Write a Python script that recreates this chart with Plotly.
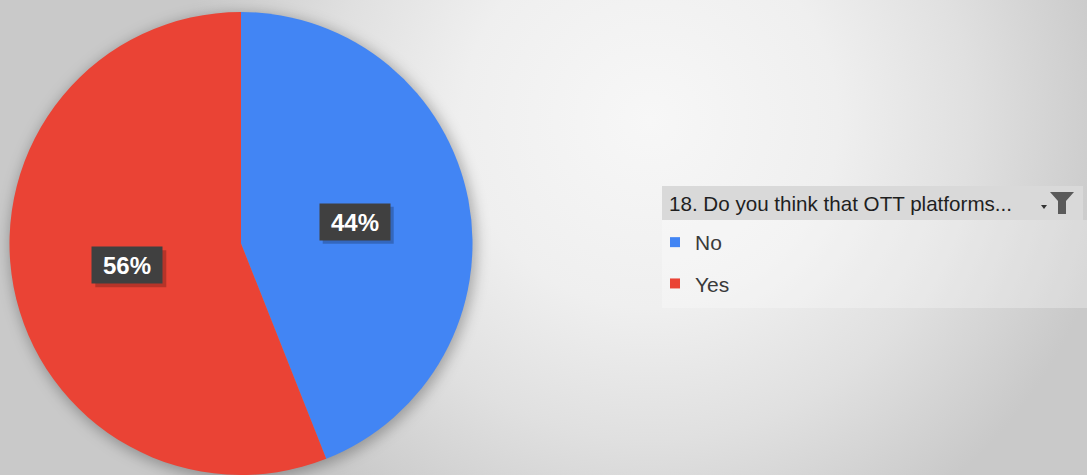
import math
import base64
import plotly.graph_objects as go

# ---------------- data ----------------
labels = ["No", "Yes"]
values = [44, 56]
colors = ["#4285F4", "#EA4335"]
legend_title = "18. Do you think that OTT platforms..."

# ---------------- geometry / style ----------------
W, H = 1087, 475
TOP = 12
R = (H - TOP) / 2.0
CX = 241.0
CY = TOP + R
BOX_W, BOX_H = 70, 36


def px(x):
    return x / W


def py(y):
    return 1 - y / H


# background: radial gradient + soft pie shadow
svg = f'''<svg xmlns="http://www.w3.org/2000/svg" width="{W}" height="{H}" viewBox="0 0 {W} {H}" preserveAspectRatio="none">
<defs>
<radialGradient id="g" gradientUnits="userSpaceOnUse" cx="650" cy="120" r="470">
<stop offset="0" stop-color="#f7f7f7"/>
<stop offset="0.4" stop-color="#efefef"/>
<stop offset="0.68" stop-color="#e0e0e0"/>
<stop offset="1" stop-color="#c9c9c9"/>
</radialGradient>
<filter id="b" x="-20%" y="-20%" width="140%" height="140%"><feGaussianBlur stdDeviation="7"/></filter>
</defs>
<rect width="{W}" height="{H}" fill="url(#g)"/>
<circle cx="{CX + 2}" cy="{CY + 3}" r="{R + 2}" fill="#000" fill-opacity="0.28" filter="url(#b)"/>
</svg>'''
bg_src = "data:image/svg+xml;base64," + base64.b64encode(svg.encode()).decode()

fig = go.Figure()

fig.add_trace(go.Pie(
    labels=labels,
    values=values,
    marker=dict(colors=colors, line=dict(width=0)),
    sort=False,
    direction="clockwise",
    rotation=0,
    textinfo="none",
    hoverinfo="label+percent",
    showlegend=False,
    domain=dict(x=[px(CX - R), px(CX + R)], y=[0, py(TOP)]),
))

# legend entries (dummy traces so spacing can be controlled)
for lab, col in zip(labels, colors):
    fig.add_trace(go.Scatter(
        x=[None], y=[None], mode="markers", name=lab, legendgroup=lab,
        marker=dict(symbol="square", size=10, color=col),
        showlegend=True, hoverinfo="skip",
    ))

annotations = []
shapes = []

# data labels placed at the slice mid-angle, half radius
total = float(sum(values))
cum = 0.0
for v in values:
    mid = (cum + v / 2.0) / total
    cum += v
    ang = 2 * math.pi * mid
    lx = CX + 0.5 * R * math.sin(ang)
    ly = CY - 0.5 * R * math.cos(ang)
    txt = f"{round(100 * v / total)}%"
    # drop shadow of the label box
    shapes.append(dict(
        type="rect", xref="paper", yref="paper",
        x0=px(lx - BOX_W / 2 + 3), x1=px(lx + BOX_W / 2 + 4),
        y0=py(ly + BOX_H / 2 + 4), y1=py(ly - BOX_H / 2 + 3),
        fillcolor="rgba(0,0,0,0.22)", line=dict(width=0), layer="above",
    ))
    annotations.append(dict(
        x=px(lx), y=py(ly), xref="paper", yref="paper", text=f"<b>{txt}</b>", showarrow=False,
        xanchor="center", yanchor="middle",
        width=BOX_W, height=BOX_H, borderpad=0,
        bgcolor="#404040", font=dict(family="Arial", size=24, color="#ffffff"),
    ))

# legend header text
annotations.append(dict(
    x=px(667), y=py(203), xref="paper", yref="paper", xanchor="left", yanchor="middle",
    text=legend_title, showarrow=False,
    font=dict(family="Arial", size=20.6, color="#1f1f1f"),
))

# legend items panel
shapes.append(dict(type="rect", xref="paper", yref="paper", x0=px(662), x1=px(1087), y0=py(308), y1=py(220),
                   fillcolor="rgba(255,255,255,0.28)", line=dict(width=0), layer="below"))
# header bar
shapes.append(dict(type="rect", xref="paper", yref="paper", x0=px(662), x1=px(1083), y0=py(220), y1=py(186),
                   fillcolor="#d9d9d9", line=dict(width=0), layer="below"))

# filter icon (funnel) and drop arrow
funnel = [(1050, 192), (1074, 192), (1066, 201), (1066, 214), (1058, 214), (1058, 201)]
path = "M" + " L".join(f"{px(a):.5f},{py(b):.5f}" for a, b in funnel) + " Z"
shapes.append(dict(type="path", xref="paper", yref="paper", path=path,
                   fillcolor="#5a5a5a", line=dict(width=0)))
arrow = [(1041, 205), (1047, 205), (1044, 209)]
path2 = "M" + " L".join(f"{px(a):.5f},{py(b):.5f}" for a, b in arrow) + " Z"
shapes.append(dict(type="path", xref="paper", yref="paper", path=path2,
                   fillcolor="#333333", line=dict(width=0)))

fig.update_layout(
    width=W, height=H,
    margin=dict(l=0, r=0, t=0, b=0),
    paper_bgcolor="#d9d9d9",
    plot_bgcolor="rgba(0,0,0,0)",
    xaxis=dict(visible=False), yaxis=dict(visible=False),
    images=[dict(source=bg_src, xref="paper", yref="paper", x=0, y=1, sizex=1, sizey=1,
                 sizing="stretch", xanchor="left", yanchor="top", layer="below")],
    legend=dict(
        x=px(655), y=py(222), xanchor="left", yanchor="top",
        bgcolor="rgba(0,0,0,0)", borderwidth=0,
        font=dict(family="Arial", size=21, color="#3a3a3a"),
        tracegroupgap=11, itemwidth=30,
    ),
    annotations=annotations,
    shapes=shapes,
    showlegend=True,
)

fig.write_html("out.html")
